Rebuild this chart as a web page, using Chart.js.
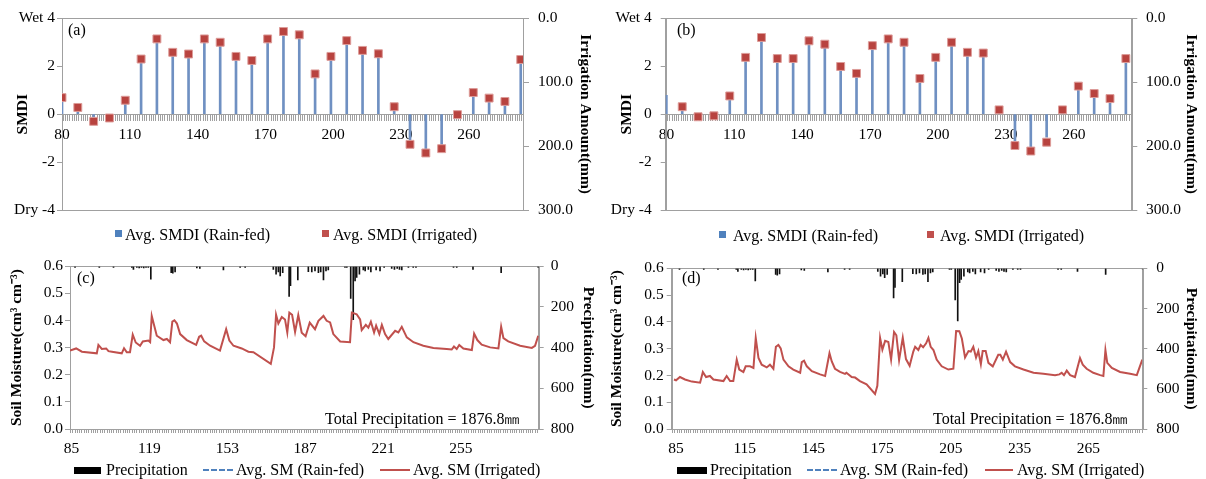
<!DOCTYPE html>
<html><head><meta charset="utf-8">
<script src="https://cdn.jsdelivr.net/npm/chart.js@4.4.1/dist/chart.umd.min.js"></script>
<style>
html,body{margin:0;padding:0;background:#fff;}
body{width:1206px;height:479px;position:relative;overflow:hidden;font-family:"Liberation Serif","Times New Roman",serif;color:#000;}
.pane{position:absolute;}
.pane canvas{display:block;}
.t{position:absolute;white-space:nowrap;font-size:16px;line-height:16px;}
.sq{position:absolute;width:7px;height:7px;}
</style></head><body>
<div class="pane" style="left:0;top:0"><canvas id="ca" width="603" height="250"></canvas></div>
<div class="pane" style="left:603px;top:0"><canvas id="cb" width="603" height="250"></canvas></div>
<div class="pane" style="left:0;top:250px"><canvas id="cc" width="603" height="229"></canvas></div>
<div class="pane" style="left:603px;top:250px"><canvas id="cd" width="603" height="229"></canvas></div>

<div class="t" style="left:68px;top:22px">(a)</div>
<div class="t" style="left:677px;top:22px">(b)</div>
<div class="t" style="left:77px;top:270px">(c)</div>
<div class="t" style="left:682px;top:270px">(d)</div>
<div class="t" style="left:325px;top:411px">Total Precipitation = 1876.8㎜</div>
<div class="t" style="left:933px;top:411px">Total Precipitation = 1876.8㎜</div>

<div class="sq" style="left:115px;top:230px;background:#4f81bd"></div>
<div class="t" style="left:125px;top:227px">Avg. SMDI (Rain-fed)</div>
<div class="sq" style="left:322px;top:230px;background:#c0504d"></div>
<div class="t" style="left:333px;top:227px">Avg. SMDI (Irrigated)</div>
<div class="sq" style="left:719px;top:231px;background:#4f81bd"></div>
<div class="t" style="left:733px;top:228px">Avg. SMDI (Rain-fed)</div>
<div class="sq" style="left:927px;top:231px;background:#c0504d"></div>
<div class="t" style="left:940px;top:228px">Avg. SMDI (Irrigated)</div>

<div style="position:absolute;left:74px;top:467px;width:27px;height:7px;background:#000"></div>
<div class="t" style="left:106px;top:462px">Precipitation</div>
<div style="position:absolute;left:203px;top:469px;width:30px;height:0;border-top:2px dashed #4f81bd"></div>
<div class="t" style="left:236px;top:462px">Avg. SM (Rain-fed)</div>
<div style="position:absolute;left:380px;top:469px;width:30px;height:0;border-top:2px solid #c0504d"></div>
<div class="t" style="left:413px;top:462px">Avg. SM (Irrigated)</div>

<div style="position:absolute;left:677px;top:467px;width:30px;height:7px;background:#000"></div>
<div class="t" style="left:710px;top:462px">Precipitation</div>
<div style="position:absolute;left:807px;top:469px;width:30px;height:0;border-top:2px dashed #4f81bd"></div>
<div class="t" style="left:840px;top:462px">Avg. SM (Rain-fed)</div>
<div style="position:absolute;left:985px;top:469px;width:28px;height:0;border-top:2px solid #c0504d"></div>
<div class="t" style="left:1017px;top:462px">Avg. SM (Irrigated)</div>

<script>
// ---------------- DATA ----------------
const smdiDays = [80,87,94,101,108,115,122,129,136,143,150,157,164,171,178,185,192,199,206,213,220,227,234,241,248,255,262,269,276,283];
const smdiIrrA  = [0.69,0.28,-0.30,-0.16,0.58,2.30,3.14,2.58,2.51,3.14,3.00,2.41,2.24,3.14,3.45,3.31,1.68,2.41,3.07,2.66,2.52,0.31,-1.26,-1.62,-1.44,-0.02,0.90,0.67,0.53,2.28];
const smdiRainA = [0.60,0.20,-0.25,-0.10,0.50,2.25,3.10,2.55,2.45,3.10,2.95,2.35,2.20,3.10,3.40,3.25,1.65,2.35,3.00,2.60,2.45,0.15,-1.10,-1.45,-1.30,0.00,0.85,0.60,0.45,2.25];
const smdiIrrB  = [null,0.31,-0.11,-0.07,0.76,2.37,3.20,2.32,2.32,3.06,2.92,1.99,1.70,2.86,3.14,3.00,1.49,2.37,3.00,2.58,2.55,0.18,-1.31,-1.54,-1.17,0.18,1.17,0.86,0.65,2.32];
const smdiRainB = [0.79,0.25,-0.08,-0.05,0.70,2.30,3.15,2.28,2.28,3.00,2.88,1.95,1.65,2.80,3.10,2.95,1.45,2.33,2.95,2.55,2.50,0.12,-1.15,-1.45,-0.96,0.12,1.10,0.80,0.60,2.28];
const smdiTicks = [-4,-2,0,2,4];
const smdiTickLabels = ['Dry -4','-2','0','2','Wet 4'];
const irrTicks = [0,100,200,300];
const dayLabelsAB = [80,110,140,170,200,230,260];
const dayLabelsC = [85,119,153,187,221,255];
const dayLabelsD = [85,115,145,175,205,235,265];
const smTicks = [0,0.1,0.2,0.3,0.4,0.5,0.6];
const precipTicks = [0,200,400,600,800];

const smDaysC = [84.3,87.0,89.5,96.0,96.7,98.2,100.1,101.1,102.6,106.9,107.9,109.1,110.5,111.7,113.0,114.9,116.1,118.5,119.3,120.0,121.2,122.2,125.1,126.6,128.0,129.0,129.9,131.0,132.4,135.3,139.4,140.7,141.6,142.9,145.5,149.8,152.5,153.9,155.7,159.3,160.8,162.2,164.4,172.0,173.4,174.3,175.3,176.8,178.2,179.2,180.1,181.3,182.6,184.0,185.5,187.2,189.0,191.3,192.8,195.0,196.4,197.9,199.3,202.3,206.6,207.4,209.5,211.0,211.7,213.5,214.6,215.7,217.1,218.0,219.4,220.5,221.9,223.3,226.3,227.7,229.2,231.4,234.3,238.6,243.0,248.8,251.0,252.0,253.2,254.3,256.1,259.8,260.8,262.2,264.1,267.8,271.4,272.6,273.6,275.7,280.9,286.0,287.4,288.8];
const smValsC = [0.289,0.297,0.285,0.279,0.310,0.295,0.297,0.287,0.285,0.279,0.298,0.283,0.283,0.348,0.319,0.307,0.323,0.326,0.320,0.417,0.377,0.344,0.328,0.332,0.320,0.396,0.401,0.389,0.350,0.328,0.310,0.340,0.344,0.323,0.307,0.289,0.368,0.326,0.307,0.297,0.291,0.285,0.283,0.240,0.301,0.421,0.389,0.413,0.404,0.356,0.429,0.421,0.358,0.420,0.355,0.342,0.392,0.368,0.399,0.417,0.399,0.393,0.350,0.323,0.320,0.429,0.423,0.404,0.365,0.384,0.374,0.396,0.356,0.381,0.350,0.384,0.350,0.332,0.362,0.356,0.377,0.338,0.320,0.307,0.299,0.295,0.293,0.304,0.295,0.310,0.297,0.291,0.352,0.328,0.311,0.301,0.297,0.377,0.335,0.323,0.307,0.299,0.307,0.344];

const smDaysD = [84.1,85.0,86.7,88.9,91.9,95.5,96.7,98.1,99.8,101.3,105.7,107.1,108.6,110.0,111.5,112.6,114.4,115.4,117.3,118.8,119.8,121.0,122.4,124.6,126.0,127.5,128.6,129.7,130.7,131.9,134.1,136.2,139.2,139.9,140.9,142.1,144.3,147.9,150.1,152.0,153.0,154.4,156.6,158.8,159.4,161.7,163.2,165.3,168.2,171.9,172.9,174.1,175.1,176.3,177.7,178.9,180.2,181.2,182.4,184.0,185.4,187.0,188.6,189.4,190.8,191.8,192.9,194.2,195.2,196.2,197.4,198.8,201.0,203.9,206.1,207.3,208.7,209.8,211.2,212.7,213.7,214.8,216.0,217.0,218.1,218.9,220.2,221.4,223.3,225.7,226.6,227.7,229.1,230.9,233.0,236.7,241.1,245.4,250.5,252.4,253.4,254.4,255.6,257.1,259.2,261.4,262.6,264.3,267.2,270.2,271.6,272.5,273.3,275.3,278.9,283.3,286.2,288.6];
const smValsD = [0.185,0.182,0.194,0.185,0.177,0.173,0.213,0.194,0.198,0.185,0.179,0.198,0.179,0.179,0.259,0.222,0.213,0.234,0.234,0.228,0.340,0.265,0.240,0.230,0.240,0.225,0.307,0.314,0.301,0.259,0.234,0.222,0.210,0.250,0.255,0.234,0.216,0.204,0.198,0.283,0.252,0.225,0.213,0.206,0.210,0.194,0.192,0.179,0.167,0.131,0.161,0.340,0.296,0.329,0.325,0.259,0.362,0.350,0.257,0.341,0.261,0.236,0.289,0.307,0.295,0.314,0.305,0.320,0.340,0.307,0.295,0.259,0.234,0.222,0.225,0.366,0.365,0.338,0.267,0.291,0.289,0.307,0.267,0.291,0.242,0.291,0.291,0.247,0.234,0.277,0.277,0.259,0.289,0.250,0.234,0.222,0.210,0.206,0.201,0.204,0.210,0.201,0.218,0.201,0.194,0.265,0.240,0.225,0.210,0.201,0.198,0.295,0.247,0.228,0.213,0.206,0.201,0.259];

const precipDays = [86.5,97.1,103.3,111.3,112.0,113.5,114.5,115.5,116.5,117.5,118.5,119.6,128.5,129.2,130.2,139.7,141.0,151.3,158.6,160.8,173.1,174.3,175.3,176.1,177.2,180.0,180.6,183.8,188.4,189.9,191.3,192.8,193.8,195.0,196.1,197.1,204.4,205.2,206.9,208.0,208.8,209.5,210.7,212.4,213.2,214.6,215.7,218.0,219.7,221.5,224.8,226.0,227.2,228.2,229.2,232.1,234.2,235.4,251.8,253.2,260.3,272.6,288.8];
const precipMm   = [6,6,5,6,15,6,8,5,8,6,6,63,31,34,28,8,10,18,5,5,15,39,28,47,31,148,95,67,27,28,23,31,28,67,23,18,6,6,158,262,72,55,39,18,23,15,28,18,23,6,11,15,11,15,18,6,6,6,6,6,15,31,6];

// ---------------- STYLE ----------------
const SERIF = "'Liberation Serif','Times New Roman',serif";
const GRAY = '#a0a0a0';
const FS = 15.5;
Chart.defaults.font.family = SERIF;
Chart.defaults.color = '#000';

const framePlugin = {
  id: 'frame',
  beforeDatasetsDraw(chart) {
    const {ctx, chartArea: a} = chart;
    ctx.save();
    ctx.strokeStyle = GRAY;
    ctx.lineWidth = 1;
    ctx.strokeRect(Math.round(a.left) + 0.5, Math.round(a.top) + 0.5, Math.round(a.right - a.left), Math.round(a.bottom - a.top));
    ctx.restore();
  }
};

function dayTicks(min, max) {
  return axis => {
    const t = [];
    for (let d = Math.ceil(min); d <= Math.floor(max); d++) t.push({value: d});
    axis.ticks = t;
  };
}
function fixedTicks(arr) { return axis => { axis.ticks = arr.map(v => ({value: v})); }; }

function smdiChart(id, irr, rain, o) {
  return new Chart(document.getElementById(id), {
    type: 'line',
    data: { datasets: [
      { type: 'line', label: 'Avg. SMDI (Irrigated)', data: smdiDays.map((d, i) => ({x: d, y: irr[i]})),
        showLine: false, pointStyle: 'rect', pointRadius: 5.6, pointHoverRadius: 5.6,
        backgroundColor: '#b8433f', borderColor: '#dd9c99', borderWidth: 1, yAxisID: 'y', order: 0 },
      { type: 'bar', label: 'Avg. SMDI (Rain-fed)', data: smdiDays.map((d, i) => ({x: d, y: rain[i]})),
        barThickness: 2, backgroundColor: '#6f90c2', yAxisID: 'y', order: 1 }
    ]},
    options: {
      responsive: false, animation: false, devicePixelRatio: 1,
      layout: { padding: { top: 17, bottom: 40, left: 0, right: 0 } },
      plugins: { legend: { display: false }, tooltip: { enabled: false } },
      scales: {
        x: { type: 'linear', min: o.xMin, max: o.xMax, position: { y: 0 }, offset: false,
             afterBuildTicks: dayTicks(o.xMin, o.xMax),
             ticks: { autoSkip: false, maxRotation: 0, minRotation: 0, padding: 5, font: { size: FS },
                      callback: v => dayLabelsAB.includes(v) ? String(v) : '' },
             grid: { drawOnChartArea: false, tickLength: 6, color: GRAY },
             border: { color: GRAY } },
        y: { position: 'left', min: -4, max: 4, afterBuildTicks: fixedTicks(smdiTicks),
             afterFit: s => { s.width = o.leftW; },
             ticks: { padding: o.lp, font: { size: FS }, callback: v => smdiTickLabels[smdiTicks.indexOf(v)] },
             grid: { drawOnChartArea: false, tickLength: 5, color: GRAY }, border: { color: GRAY },
             title: { display: true, text: 'SMDI', font: { size: FS, weight: 'bold' }, padding: { top: o.ltp, bottom: 0 } } },
        y2: { position: 'right', min: 0, max: 300, reverse: true, afterBuildTicks: fixedTicks(irrTicks),
              afterFit: s => { s.width = o.rightW; },
              ticks: { padding: o.rp, font: { size: FS }, callback: v => v.toFixed(1) },
              grid: { drawOnChartArea: false, tickLength: 6, color: GRAY }, border: { color: GRAY },
              title: { display: true, text: 'Irrigation Amount(mm)', font: { size: FS, weight: 'bold' }, padding: { top: o.rtp, bottom: 0 } } }
      }
    },
    plugins: [framePlugin]
  });
}

function smChart(id, days, vals, o) {
  return new Chart(document.getElementById(id), {
    type: 'line',
    data: { datasets: [
      { type: 'line', label: 'Avg. SM (Irrigated)', data: days.map((d, i) => ({x: d, y: vals[i]})),
        borderColor: '#c0504d', borderWidth: 2, pointRadius: 0, tension: 0, yAxisID: 'y', order: 0 },
      { type: 'bar', label: 'Precipitation', data: precipDays.map((d, i) => ({x: d, y: precipMm[i]})),
        barThickness: 1, backgroundColor: '#111', yAxisID: 'y2', order: 1 }
    ]},
    options: {
      responsive: false, animation: false, devicePixelRatio: 1,
      layout: { padding: { top: 15, bottom: 20, left: 0, right: 0 } },
      plugins: { legend: { display: false }, tooltip: { enabled: false } },
      scales: {
        x: { type: 'linear', min: o.xMin, max: o.xMax, position: 'bottom', offset: false,
             afterBuildTicks: dayTicks(o.xMin, o.xMax), afterFit: s => { s.height = 30; },
             ticks: { autoSkip: false, maxRotation: 0, minRotation: 0, padding: 7, font: { size: FS },
                      callback: v => o.labels.includes(v) ? String(v) : '' },
             grid: { drawOnChartArea: false, tickLength: 4, color: GRAY }, border: { color: GRAY } },
        y: { position: 'left', min: 0, max: 0.6, afterBuildTicks: fixedTicks(smTicks),
             afterFit: s => { s.width = o.leftW; },
             ticks: { padding: o.lp, font: { size: FS }, callback: v => v.toFixed(1) },
             grid: { drawOnChartArea: false, tickLength: 5, color: GRAY }, border: { color: GRAY },
             title: { display: true, text: 'Soil Moisture(cm³ cm⁻³)', font: { size: FS, weight: 'bold' }, padding: { top: o.ltp, bottom: 0 } } },
        y2: { position: 'right', min: 0, max: 800, reverse: true, afterBuildTicks: fixedTicks(precipTicks),
              afterFit: s => { s.width = o.rightW; },
              ticks: { padding: o.rp, font: { size: FS }, callback: v => String(v) },
              grid: { drawOnChartArea: false, tickLength: 5, color: GRAY }, border: { color: GRAY },
              title: { display: true, text: 'Precipitation(mm)', font: { size: FS, weight: 'bold' }, padding: { top: o.rtp, bottom: 0 } } }
      }
    },
    plugins: [framePlugin]
  });
}

smdiChart('ca', smdiIrrA, smdiRainA, { xMin: 80, xMax: 284, leftW: 62, rightW: 80, lp: 2, ltp: 14, rp: 9, rtp: 9 });
smdiChart('cb', smdiIrrB, smdiRainB, { xMin: 79.7, xMax: 285.4, leftW: 62.7, rightW: 74.7, lp: 9, ltp: 14.7, rp: 8.7, rtp: 5.3 });
smChart('cc', smDaysC, smValsC, { xMin: 84.3, xMax: 289.0, labels: dayLabelsC, leftW: 70, rightW: 64.3, lp: 2, ltp: 8, rp: 7, rtp: 6 });
smChart('cd', smDaysD, smValsD, { xMin: 83.1, xMax: 288.6, labels: dayLabelsD, leftW: 68.7, rightW: 63.7, lp: 3, ltp: 4.7, rp: 9, rtp: 5.3 });
</script>
</body></html>
